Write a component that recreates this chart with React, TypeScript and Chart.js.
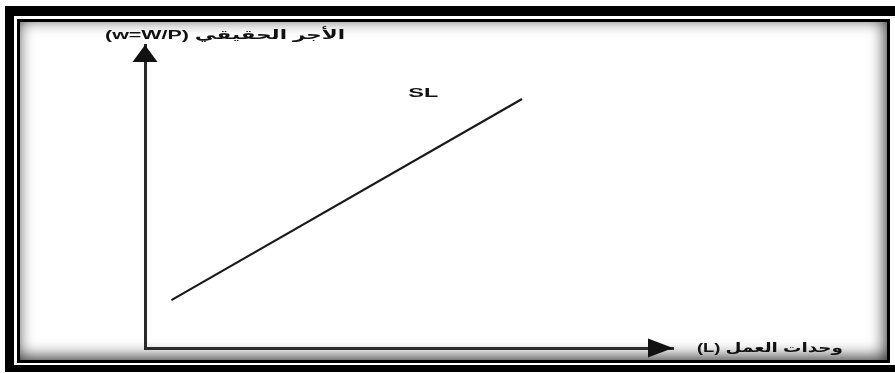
import React, { useEffect, useRef } from "react";
import { Chart, registerables } from "chart.js";

Chart.register(...registerables);

// Supply line SL (two end points, in axis units 0..10)
const slX = [0.5, 7.14];
const slY = [1.58, 8.22];
const slLabel = "SL";
const slLabelPos = [5.27, 8.38];

const yAxisTitle = "الأجر الحقيقي (w=W/P)";
const xAxisTitle = "وحدات العمل (L)";

const axisMin = 0;
const axisMax = 10;

const FONT = '"Liberation Sans", "DejaVu Sans", Arial, sans-serif';

function drawStretched(ctx: CanvasRenderingContext2D, text: string, cx: number, cy: number, size: number, targetW: number, rtl: boolean) {
  ctx.save();
  ctx.font = `bold ${size}px ${FONT}`;
  ctx.direction = rtl ? "rtl" : "ltr";
  ctx.textAlign = "center";
  ctx.textBaseline = "middle";
  const w = ctx.measureText(text).width;
  const sx = targetW / w;
  ctx.translate(cx, cy);
  ctx.scale(sx, 1);
  ctx.fillStyle = "#111";
  ctx.fillText(text, 0, 0);
  ctx.restore();
}

const framePlugin = {
  id: "frame",
  beforeDraw(chart: any) {
    const ctx = chart.ctx as CanvasRenderingContext2D;
    const W = chart.width;
    const H = chart.height;
    ctx.save();
    ctx.fillStyle = "#ffffff";
    ctx.fillRect(0, 0, W, H);
    // outer thick frame
    ctx.fillStyle = "#000";
    ctx.fillRect(5, 6, W - 5, 366);
    ctx.fillStyle = "#fff";
    ctx.fillRect(14, 16, W - 14, 349);
    // inner thin frame
    ctx.fillStyle = "#000";
    ctx.fillRect(17, 19, 873, 344);
    ctx.fillStyle = "#fff";
    ctx.fillRect(20, 22, 867, 338);
    // inset shadow
    ctx.beginPath();
    ctx.rect(20, 22, 867, 338);
    ctx.clip();
    ctx.beginPath();
    ctx.rect(-200, -200, W + 400, H + 400);
    ctx.rect(20, 22, 867, 338);
    ctx.shadowColor = "rgba(0,0,0,0.8)";
    ctx.shadowBlur = 16;
    ctx.shadowOffsetX = -2;
    ctx.shadowOffsetY = -3;
    ctx.fillStyle = "#000";
    ctx.fill("evenodd");
    ctx.restore();
  },
  afterDraw(chart: any) {
    const ctx = chart.ctx as CanvasRenderingContext2D;
    const { left, right, top, bottom } = chart.chartArea;
    ctx.save();
    ctx.fillStyle = "#111";
    // up arrow
    ctx.beginPath();
    ctx.moveTo(left, top);
    ctx.lineTo(left + 12.5, top + 17);
    ctx.lineTo(left - 12.5, top + 17);
    ctx.closePath();
    ctx.fill();
    // right arrow
    ctx.beginPath();
    ctx.moveTo(right, bottom);
    ctx.lineTo(right - 25, bottom - 9.5);
    ctx.lineTo(right - 25, bottom + 9.5);
    ctx.closePath();
    ctx.fill();
    ctx.restore();

    const xs = chart.scales.x;
    const ys = chart.scales.y;
    drawStretched(ctx, slLabel, xs.getPixelForValue(slLabelPos[0]), ys.getPixelForValue(slLabelPos[1]), 12, 30, false);
    drawStretched(ctx, yAxisTitle, 225, 35.5, 13, 240, true);
    drawStretched(ctx, xAxisTitle, 770, 348.5, 13, 146, true);
  },
};

export default function App() {
  const ref = useRef<HTMLCanvasElement>(null);
  useEffect(() => {
    const canvas = ref.current!;
    const chart = new Chart(canvas, {
      type: "scatter",
      data: {
        datasets: [
          {
            label: slLabel,
            data: slX.map((x, i) => ({ x, y: slY[i] })),
            showLine: true,
            borderColor: "#1a1a1a",
            borderWidth: 2.2,
            pointRadius: 0,
            fill: false,
          },
        ],
      },
      options: {
        responsive: false,
        animation: false,
        devicePixelRatio: 1,
        layout: { padding: { left: 145, top: 45, right: 222, bottom: 25 } },
        plugins: { legend: { display: false }, tooltip: { enabled: false } },
        scales: {
          x: {
            type: "linear",
            min: axisMin,
            max: axisMax,
            grid: { display: false, drawTicks: false },
            ticks: { display: false },
            border: { display: true, color: "#2a2a2a", width: 3 },
          },
          y: {
            type: "linear",
            min: axisMin,
            max: axisMax,
            grid: { display: false, drawTicks: false },
            ticks: { display: false },
            border: { display: true, color: "#2a2a2a", width: 3 },
          },
        },
      },
      plugins: [framePlugin],
    });
    return () => chart.destroy();
  }, []);
  return (
    <div style={{ position: "absolute", left: 0, top: 0, width: 895, height: 373 }}>
      <canvas ref={ref} width={895} height={373} style={{ display: "block" }} />
    </div>
  );
}
